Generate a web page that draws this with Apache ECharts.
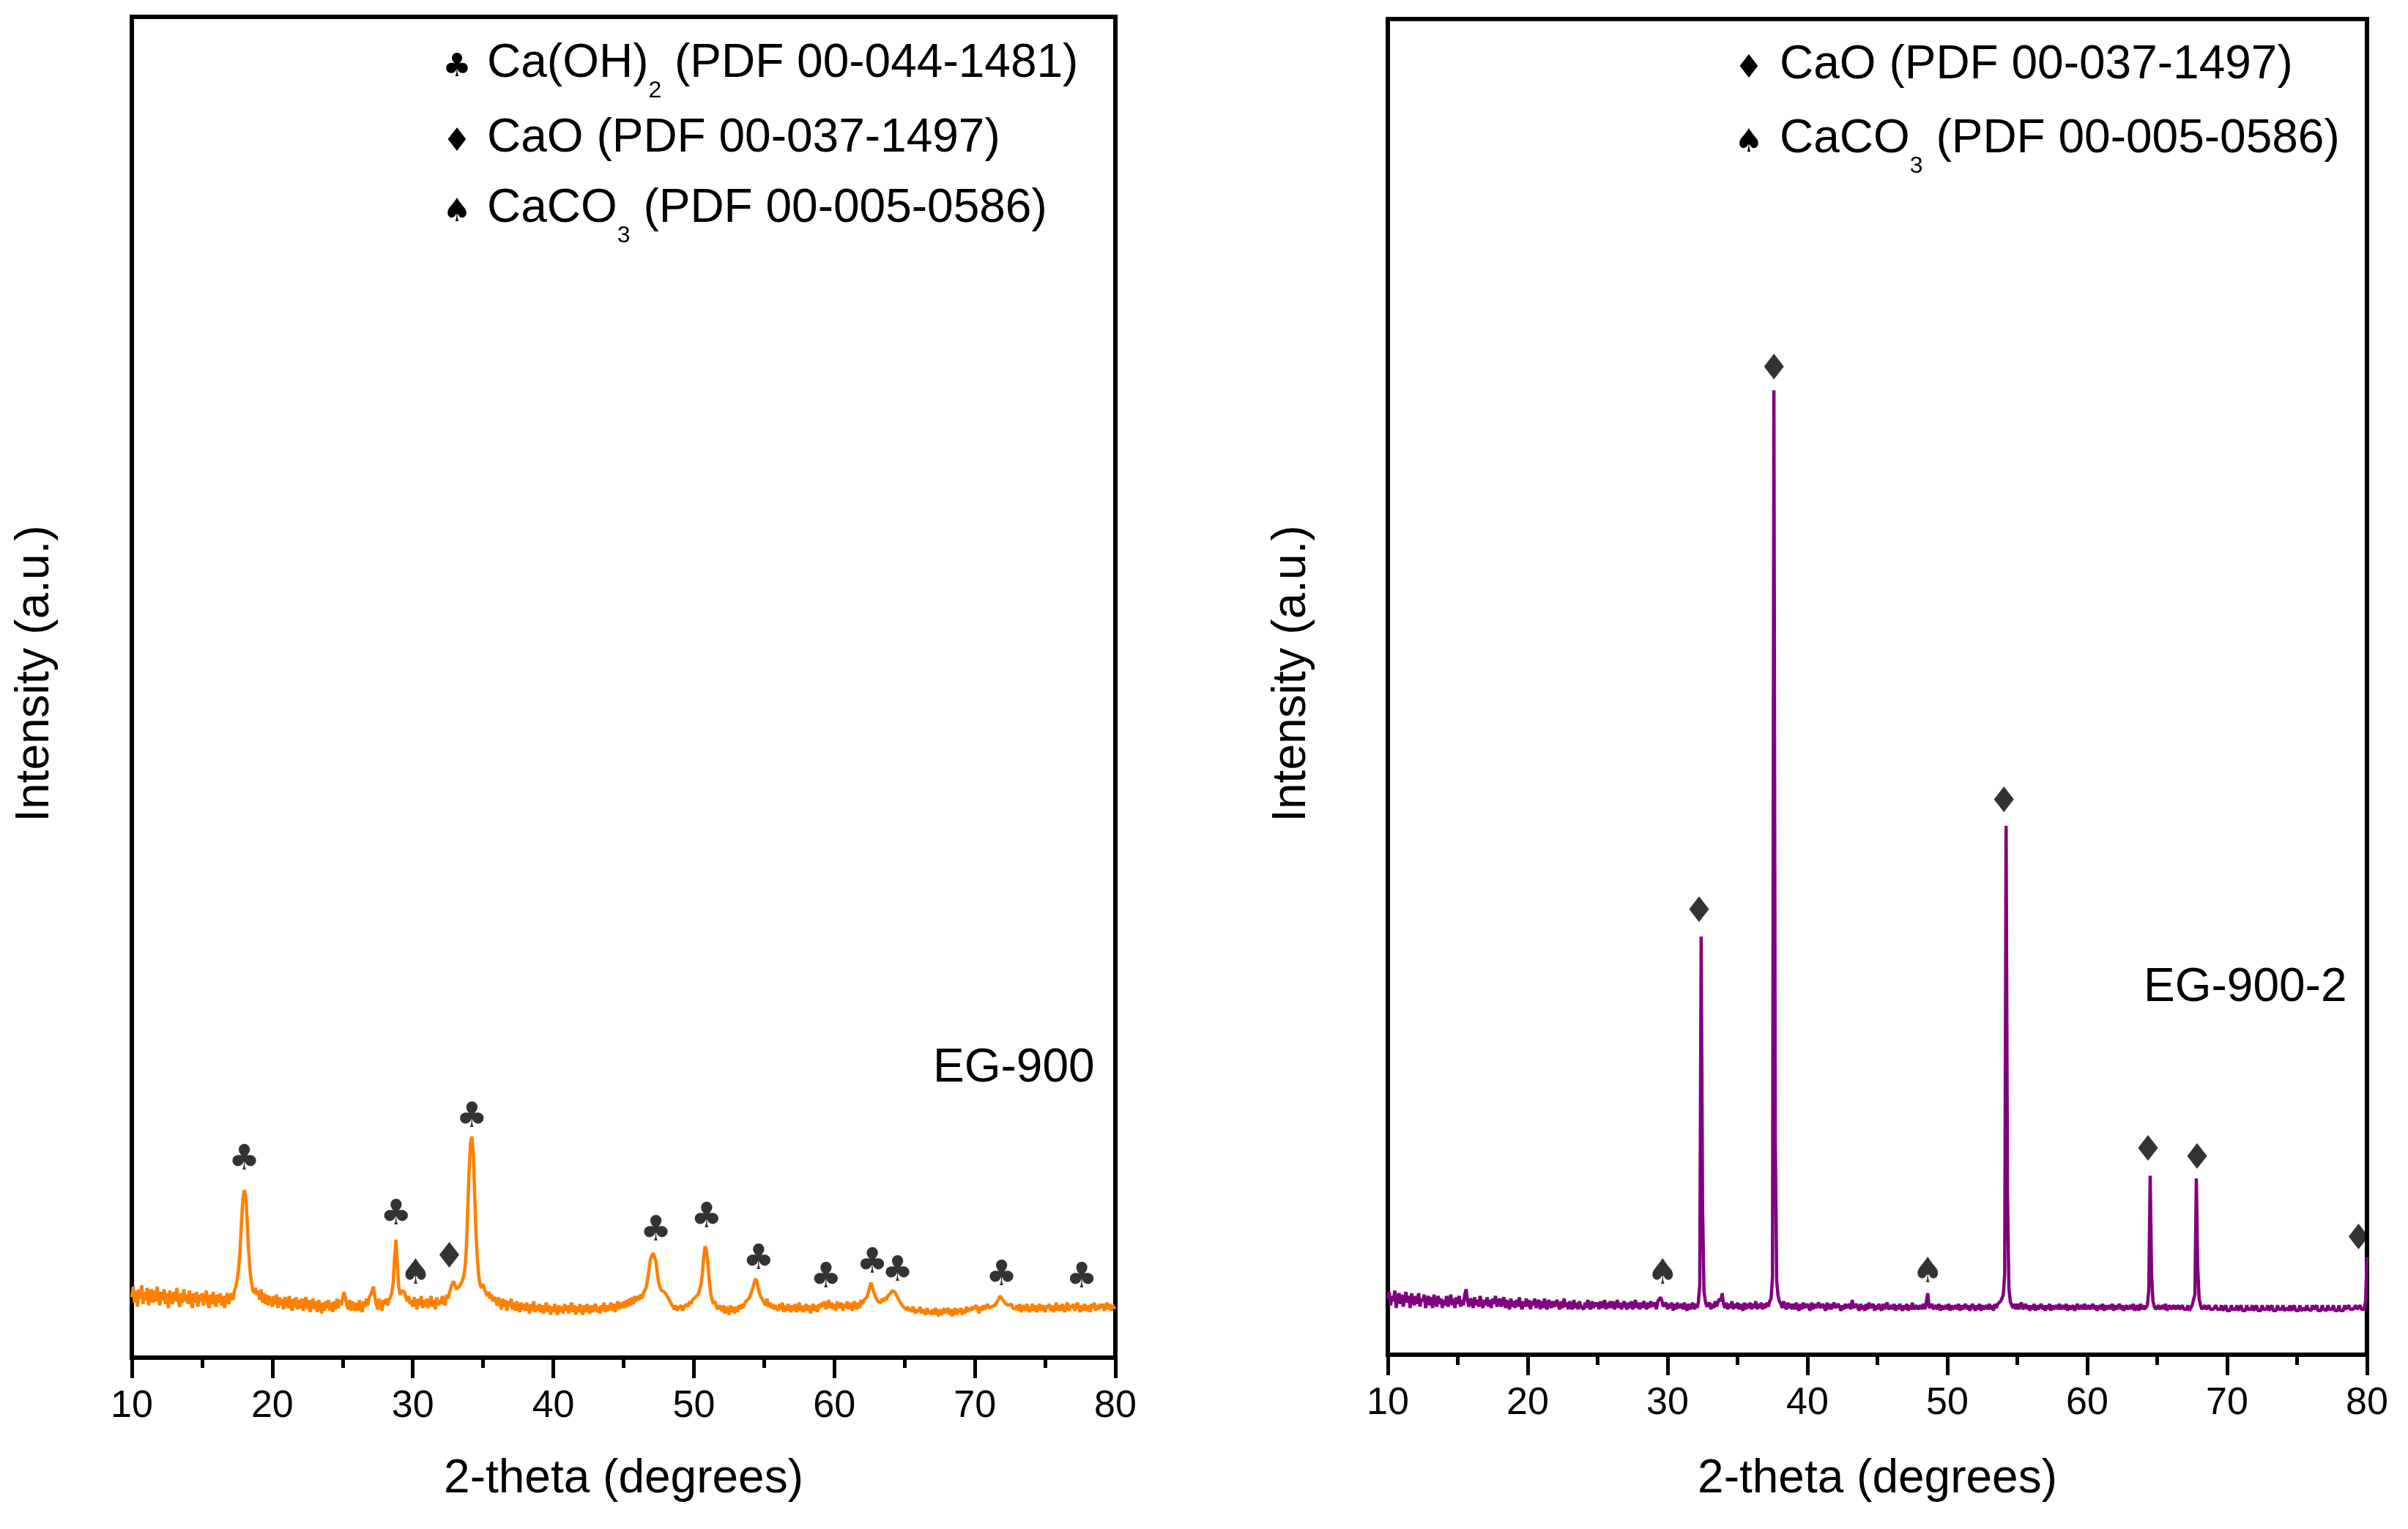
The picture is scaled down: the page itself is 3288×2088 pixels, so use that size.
<!DOCTYPE html>
<html>
<head>
<meta charset="utf-8">
<script src="https://cdn.jsdelivr.net/npm/echarts@6/dist/echarts.min.js"></script>
<style>
html,body{margin:0;padding:0;background:#fff;}
#chart{width:3288px;height:2088px;}
</style>
</head>
<body>
<div id="chart"></div>
<script>
// 2-theta sampling grid (degrees)
const twoThetaStart = 10;
const twoThetaStep = 0.1;
const xTicks = [10, 20, 30, 40, 50, 60, 70, 80];

// EG-900 intensity (a.u.), one row per degree, 10.0 ... 80.0
const eg900 = [
45,53,41,50,38,51,44,54,40,49,
43,52,39,48,51,41,50,42,53,44,
39,49,43,51,40,48,37,50,44,40,
49,42,52,43,38,48,41,51,42,47,
40,50,43,37,48,41,49,38,47,42,
48,39,44,50,41,37,47,40,49,42,
38,47,41,48,39,46,37,45,48,40,
45,48,43,50,53,58,66,80,100,118,
125,121,104,82,66,57,51,48,52,47,
50,43,51,41,48,40,47,39,46,42,
38,46,40,47,37,45,39,44,36,45,
43,37,46,39,35,44,38,45,36,43,
37,44,35,42,45,36,43,34,41,44,
36,42,34,43,38,33,41,35,42,37,
43,35,41,34,42,36,44,37,43,39,
44,49,45,39,36,43,35,42,38,35,
41,35,43,37,34,42,38,44,39,45,
47,50,53,45,40,36,44,39,35,43,
40,44,39,43,45,48,56,74,88,68,
52,47,50,51,49,45,42,46,40,43,
38,45,41,36,44,39,46,37,43,38,
44,37,41,46,38,43,36,45,39,43,
40,46,42,39,47,44,48,52,55,57,
54,51,50,53,55,57,60,66,80,108,
138,160,165,152,122,92,72,60,54,52,
55,51,48,46,49,44,47,42,45,43,
39,45,40,36,44,38,43,35,42,38,
44,36,41,35,42,37,34,41,36,40,
35,41,36,33,40,35,42,34,39,35,
40,34,39,33,38,41,34,39,32,38,
34,40,35,32,39,34,38,33,40,35,
39,33,38,41,34,39,32,38,34,40,
35,32,39,34,40,35,33,39,34,38,
40,34,38,33,39,35,41,34,39,35,
36,41,35,40,34,39,42,36,41,37,
42,37,43,38,44,39,45,40,46,42,
46,43,47,44,48,50,52,58,65,73,
76,78,78,72,63,56,52,50,51,49,
48,46,44,42,40,38,36,39,35,37,
36,39,35,38,37,40,38,42,40,43,
42,45,44,47,48,54,62,75,83,80,
70,57,48,43,40,42,38,36,39,37,
35,39,33,38,36,32,39,34,38,33,
38,34,39,36,40,37,40,42,41,44,
46,49,52,56,59,56,51,47,45,43,
42,39,44,38,41,37,40,36,39,38,
35,40,36,41,34,39,35,40,37,34,
39,35,40,34,37,41,35,39,34,37,
40,35,39,33,37,40,35,39,34,40,
37,41,38,42,36,39,43,37,41,36,
40,35,42,37,36,41,35,40,37,42,
36,41,38,35,42,39,36,41,37,43,
40,43,42,45,48,52,56,53,49,46,
44,42,43,41,44,42,45,43,46,45,
48,50,51,49,47,45,43,41,40,38,
39,36,38,35,37,34,38,35,33,36,
34,38,33,36,35,32,37,33,35,32,
36,32,37,34,31,36,32,34,37,33,
34,37,32,36,31,34,37,32,36,34,
37,32,36,33,38,34,37,35,38,36,
35,39,36,33,38,35,39,36,37,40,
37,36,38,37,39,40,42,44,46,45,
43,42,40,41,39,38,40,37,38,36,
39,35,40,34,37,39,35,40,37,34,
37,40,35,39,34,37,40,35,39,37,
34,39,37,40,35,39,34,37,41,35,
39,35,40,37,34,39,41,35,39,37,
40,35,38,41,37,34,39,35,40,37,
35,39,34,40,37,41,35,39,36,40,
37,40,35,38,41,36,40,35,39,37,
38
];

// EG-900-2 intensity (a.u.), one row per degree, 10.0 ... 80.0
const eg9002 = [
42,47,37,44,40,48,35,43,46,38,
45,36,42,47,39,44,35,46,41,37,
44,38,46,36,42,40,45,35,41,44,
37,43,35,45,40,36,44,38,42,35,
41,37,44,36,40,45,37,42,35,43,
38,44,36,41,37,45,49,40,36,42,
40,35,43,37,41,36,44,38,35,41,
37,43,36,41,35,42,38,44,36,39,
42,36,40,43,35,41,37,34,42,36,
40,35,41,36,43,37,34,40,36,42,
36,41,34,40,37,42,35,39,41,34,
40,35,42,36,34,41,38,35,40,36,
35,41,36,34,40,35,42,36,39,34,
40,36,34,41,35,39,34,40,36,35,
34,39,35,41,36,34,40,35,39,36,
39,34,40,35,37,41,34,39,35,40,
35,40,34,37,41,35,39,34,37,40,
36,34,39,35,40,34,37,41,35,39,
34,39,35,40,37,34,39,35,40,36,
35,39,34,40,41,43,40,36,35,39,
34,38,35,39,33,38,34,39,35,34,
38,34,39,35,33,38,34,36,39,34,
38,35,39,52,313,110,48,40,36,35,
39,34,38,35,40,36,39,42,40,46,
38,35,39,34,38,35,40,34,38,35,
39,34,38,35,33,39,34,38,35,39,
34,38,35,40,34,38,35,39,34,38,
35,39,36,40,42,58,722,160,55,44,
40,38,35,40,36,34,39,35,38,34,
38,34,39,35,33,38,34,39,35,34,
38,35,33,39,34,38,35,34,39,35,
34,38,35,33,39,34,38,34,35,39,
35,34,38,39,33,37,34,38,35,34,
38,34,41,35,34,38,35,33,38,34,
37,33,38,34,39,35,34,38,33,37,
34,38,35,33,38,34,37,39,34,33,
37,34,38,33,37,34,38,35,33,37,
34,38,33,37,34,39,34,33,37,34,
33,37,34,38,34,33,46,35,34,38,
34,33,37,34,38,33,37,34,33,37,
34,38,33,37,34,33,37,34,38,33,
37,34,33,38,34,37,33,34,38,35,
33,37,34,38,33,37,34,33,37,34,
38,34,37,33,38,35,38,37,40,42,
45,60,396,120,50,40,37,35,38,34,
38,34,37,39,34,33,38,34,37,33,
37,34,38,33,37,34,33,38,34,37,
33,37,34,38,33,37,34,33,37,34,
38,34,33,37,34,38,33,37,34,33,
37,33,34,38,34,33,37,34,38,34,
33,37,34,33,38,34,37,33,34,37,
34,38,33,37,34,33,37,34,38,33,
37,34,33,38,34,37,33,34,37,34,
33,37,34,38,33,34,37,33,38,34,
37,34,33,37,48,134,60,40,36,34,
33,37,34,33,37,34,38,33,34,37,
34,33,37,34,33,37,34,33,37,34,
33,34,37,33,34,37,38,45,132,65,
42,37,34,33,37,34,33,37,34,33,
34,33,37,34,33,34,37,33,34,37,
33,34,33,37,34,33,34,37,33,34,
37,33,34,33,37,34,33,34,37,33,
34,37,33,34,33,37,34,33,34,37,
33,34,37,33,34,33,37,34,33,34,
37,33,34,35,33,37,33,34,37,33,
34,33,37,33,34,35,33,37,34,33,
33,37,34,33,37,33,34,33,37,34,
34,33,37,34,33,34,37,33,34,33,
37,33,34,33,37,34,33,37,34,33,
34,33,37,34,33,37,34,33,34,40,
73
];

// Phase markers [2-theta, height]
const eg900Clubs = [[18.0,147],[28.8,106],[34.2,179],[47.3,94],[50.9,104],[54.6,73],[59.4,59],[62.7,70],[64.5,64],[71.9,61],[77.6,59]];
const eg900Diamonds = [[32.6,74]];
const eg900Spades = [[30.2,62]];
const eg9002Diamonds = [[32.25,331],[37.6,737],[54.05,413],[64.35,152],[67.85,146],[79.4,86]];
const eg9002Spades = [[29.65,60],[48.6,61]];

// Legend lines: glyph, then text pieces [text, isSubscript]
const leftLegend = [
  ['\u2663', [['Ca(OH)', 0], ['2', 1], [' (PDF 00-044-1481)', 0]]],
  ['\u2666', [['CaO (PDF 00-037-1497)', 0]]],
  ['\u2660', [['CaCO', 0], ['3', 1], [' (PDF 00-005-0586)', 0]]]
];
const rightLegend = [
  ['\u2666', [['CaO (PDF 00-037-1497)', 0]]],
  ['\u2660', [['CaCO', 0], ['3', 1], [' (PDF 00-005-0586)', 0]]]
];

const FONT = '"Liberation Sans", Arial, sans-serif';
const SYMFONT = '"DejaVu Sans", sans-serif';
const MAIN_SIZE = 64, SUB_SIZE = 32, SUB_DROP = 25, SYM_SIZE = 48;

function toPairs(vals) {
  return vals.map((v, i) => [Math.round((twoThetaStart + i * twoThetaStep) * 10) / 10, v]);
}

const measureCtx = document.createElement('canvas').getContext('2d');
function textWidth(t, size) {
  measureCtx.font = size + 'px ' + FONT;
  return measureCtx.measureText(t).width;
}

const chart = echarts.init(document.getElementById('chart'), null, {renderer: 'canvas'});

function xAxisCfg(gi) {
  return {
    gridIndex: gi, type: 'value', min: xTicks[0], max: xTicks[xTicks.length - 1], interval: 10,
    axisLine: {show: false},
    axisTick: {show: true, length: 28, lineStyle: {color: '#000', width: 5}},
    minorTick: {show: true, splitNumber: 2, length: 14, lineStyle: {color: '#000', width: 5}},
    splitLine: {show: false},
    minorSplitLine: {show: false},
    axisLabel: {show: true, margin: 41, fontSize: 52, color: '#000', fontFamily: FONT, showMinLabel: true, showMaxLabel: true}
  };
}
function yAxisCfg(gi) {
  return {gridIndex: gi, type: 'value', min: 0, max: 1000, show: false, splitLine: {show: false}};
}
function markerSeries(data, glyph, idx) {
  return {
    type: 'scatter', xAxisIndex: idx, yAxisIndex: idx, data: data,
    symbol: 'circle', symbolSize: 1, itemStyle: {color: 'rgba(0,0,0,0)'},
    z: 5, silent: true,
    label: {show: true, position: 'inside', formatter: glyph, fontSize: SYM_SIZE, fontFamily: SYMFONT, color: '#000', align: 'center', verticalAlign: 'middle'}
  };
}

const graphics = [];
function midY(baseline, size) { return baseline - 0.3467 * size; }
function legendBlock(lines, symX, textX, baselines) {
  lines.forEach((ln, i) => {
    const base = baselines[i];
    graphics.push({type: 'text', x: symX, y: base - 17, z: 10,
      style: {text: ln[0], fontSize: SYM_SIZE - 4, fontFamily: SYMFONT, fill: '#000', align: 'center', verticalAlign: 'middle'}});
    let x = textX;
    ln[1].forEach(p => {
      const size = p[1] ? SUB_SIZE : MAIN_SIZE;
      const b = p[1] ? base + SUB_DROP : base;
      graphics.push({type: 'text', x: x, y: midY(b, size), z: 10,
        style: {text: p[0], fontSize: size, fontFamily: FONT, fill: '#000', align: 'left', verticalAlign: 'middle'}});
      x += textWidth(p[0], size);
    });
  });
}
legendBlock(leftLegend, 624, 665, [110, 212, 308]);
legendBlock(rightLegend, 2388, 2430, [112, 213]);

function plainText(text, x, y, align, rot) {
  graphics.push({type: 'text', x: x, y: y, rotation: rot || 0, z: 10,
    style: {text: text, fontSize: 64, fontFamily: FONT, fill: '#000', align: align, verticalAlign: 'middle'}});
}
plainText('Intensity (a.u.)', 48, 920, 'center', Math.PI / 2);
plainText('Intensity (a.u.)', 1764, 920, 'center', Math.PI / 2);
plainText('2-theta (degrees)', 851.5, 2020, 'center');
plainText('2-theta (degrees)', 2563.5, 2020, 'center');
plainText('EG-900', 1274, 1459, 'left');
plainText('EG-900-2', 2927, 1349, 'left');

const option = {
  animation: false,
  backgroundColor: '#fff',
  grid: [
    {left: 180, top: 23, width: 1343, height: 1831, show: true, borderColor: '#000', borderWidth: 6, backgroundColor: 'transparent'},
    {left: 1895, top: 26, width: 1337, height: 1824, show: true, borderColor: '#000', borderWidth: 6, backgroundColor: 'transparent'}
  ],
  xAxis: [xAxisCfg(0), xAxisCfg(1)],
  yAxis: [yAxisCfg(0), yAxisCfg(1)],
  series: [
    {type: 'line', xAxisIndex: 0, yAxisIndex: 0, data: toPairs(eg900), showSymbol: false, symbol: 'none',
      lineStyle: {color: '#FF8000', width: 4.5}, itemStyle: {color: '#FF8000'}, silent: true, z: 3},
    {type: 'line', xAxisIndex: 1, yAxisIndex: 1, data: toPairs(eg9002), showSymbol: false, symbol: 'none',
      lineStyle: {color: '#800080', width: 4.5}, itemStyle: {color: '#800080'}, silent: true, z: 3},
    markerSeries(eg900Clubs, '\u2663', 0),
    markerSeries(eg900Diamonds, '\u2666', 0),
    markerSeries(eg900Spades, '\u2660', 0),
    markerSeries(eg9002Diamonds, '\u2666', 1),
    markerSeries(eg9002Spades, '\u2660', 1)
  ],
  graphic: graphics
};
chart.setOption(option);
</script>
</body>
</html>
